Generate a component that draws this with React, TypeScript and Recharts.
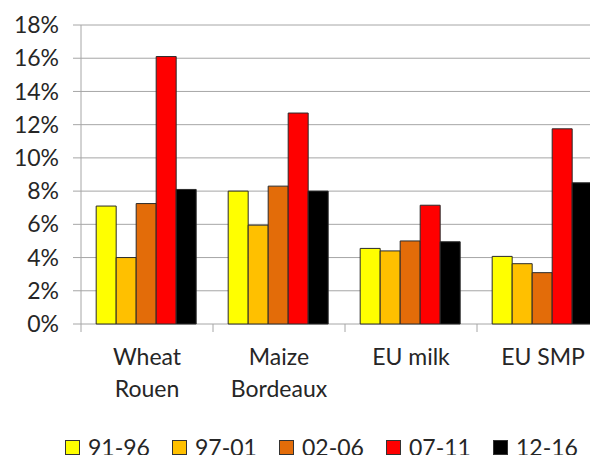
import React from "react";
import { BarChart, Bar, XAxis, YAxis, CartesianGrid, Legend } from "recharts";

const categories = ["Wheat\nRouen", "Maize\nBordeaux", "EU milk", "EU SMP"];
const periods = ["91-96", "97-01", "02-06", "07-11", "12-16"];
const s9196 = [7.1, 8.0, 4.55, 4.07];
const s9701 = [4.0, 5.95, 4.4, 3.63];
const s0206 = [7.25, 8.3, 5.0, 3.09];
const s0711 = [16.1, 12.7, 7.15, 11.75];
const s1216 = [8.1, 8.0, 4.95, 8.5];
const colors = ["#FFFF00", "#FFC000", "#E36C09", "#FF0000", "#000000"];
const yTicks = [0, 2, 4, 6, 8, 10, 12, 14, 16, 18];

const seriesValues = [s9196, s9701, s0206, s0711, s1216];
const data = categories.map((c, i) => {
  const row: any = { name: c };
  periods.forEach((p, k) => {
    row[p] = seriesValues[k][i];
  });
  return row;
});

const FONT = "Lato, 'Open Sans', sans-serif";
const TEXT = "#262626";
const GRID = "#A6A6A6";

const CatTick = (props: any) => {
  const { x, y, payload, index, visibleTicksCount } = props;
  const half = payload && payload.offset ? payload.offset : 0;
  const lines = String(payload.value).split("\n");
  const isLast = index === (visibleTicksCount || categories.length) - 1;
  return (
    <g>
      <line x1={x - half} x2={x - half} y1={y} y2={y + 8} stroke={GRID} strokeWidth={1} />
      {isLast && <line x1={x + half} x2={x + half} y1={y} y2={y + 8} stroke={GRID} strokeWidth={1} />}
      <text x={x} y={y} textAnchor="middle" fill={TEXT} fontFamily={FONT} fontSize={23}>
        {lines.map((l, i) => (
          <tspan key={i} x={x} dy={i === 0 ? 41 : 32}>
            {l}
          </tspan>
        ))}
      </text>
    </g>
  );
};

const LegendContent = (props: any) => {
  const payload = [...(props.payload || [])].sort(
    (a: any, b: any) => periods.indexOf(a.value) - periods.indexOf(b.value)
  );
  return (
    <div style={{ display: "flex", marginLeft: 65, height: 30, alignItems: "center" }}>
      {payload.map((p: any) => (
        <div key={p.value} style={{ display: "flex", alignItems: "center", width: 107 }}>
          <span
            style={{
              display: "inline-block",
              width: 13,
              height: 13,
              background: p.color,
              border: "1px solid #333",
              marginRight: 8,
            }}
          />
          <span style={{ fontFamily: FONT, fontSize: 23, color: TEXT, lineHeight: "30px" }}>{p.value}</span>
        </div>
      ))}
    </div>
  );
};

export default function App() {
  return (
    <div style={{ width: 598, height: 455, overflow: "hidden", marginLeft: -8, marginTop: -8, background: "#fff" }}>
      <BarChart
        width={612}
        height={470}
        data={data}
        margin={{ top: 25, right: 3, left: 0, bottom: 8 }}
        barCategoryGap="11.5%"
        barGap={0}
      >
        <CartesianGrid vertical={false} stroke={GRID} strokeWidth={1} />
        <XAxis
          dataKey="name"
          axisLine={false}
          tickLine={false}
          tickSize={0}
          tickMargin={0}
          height={108}
          interval={0}
          tick={<CatTick />}
        />
        <YAxis
          width={81}
          domain={[0, 18]}
          ticks={yTicks}
          tickFormatter={(v: number) => `${v}%`}
          tickSize={8}
          tickMargin={14}
          stroke={GRID}
          tickLine={{ stroke: GRID }}
          axisLine={{ stroke: GRID }}
          tick={{ fill: TEXT, fontFamily: FONT, fontSize: 23 }}
          interval={0}
        />
        <Legend verticalAlign="bottom" content={<LegendContent />} />
        {periods.map((p, k) => (
          <Bar
            key={p}
            dataKey={p}
            fill={colors[k]}
            stroke="#2a2a2a"
            strokeWidth={1}
            isAnimationActive={false}
          />
        ))}
      </BarChart>
    </div>
  );
}
